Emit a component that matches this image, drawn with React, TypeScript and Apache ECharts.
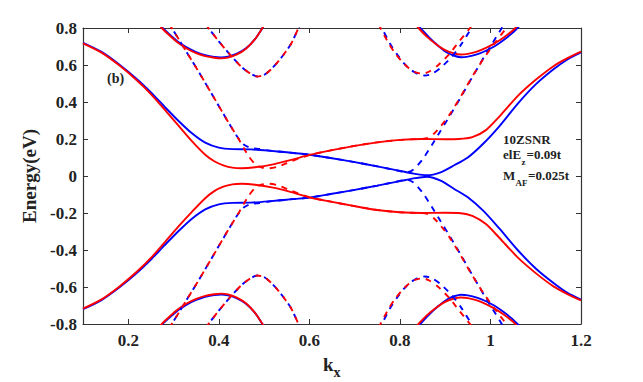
import React, { useEffect, useRef } from "react";
import * as echarts from "echarts";

// ---------- data: k_x (units of pi/a) vs Energy (eV) ----------
const xTicks = [0.2, 0.4, 0.6, 0.8, 1, 1.2];

// near-gap bands (solid)
const redBandUp = [[0.10,0.717],[0.14,0.668],[0.18,0.598],[0.22,0.515],[0.25,0.443],[0.28,0.36],[0.31,0.275],[0.34,0.19],[0.37,0.115],[0.39,0.08],[0.41,0.058],[0.43,0.045],[0.45,0.042],[0.48,0.047],[0.52,0.063],[0.56,0.087],[0.60,0.114],[0.65,0.14],[0.70,0.163],[0.75,0.182],[0.80,0.195],[0.85,0.2],[0.90,0.199],[0.93,0.2],[0.96,0.21],[0.99,0.248],[1.02,0.322],[1.06,0.432],[1.10,0.52],[1.14,0.595],[1.17,0.637],[1.20,0.672]];
const blueBandUp = [[0.10,0.72],[0.14,0.672],[0.18,0.603],[0.22,0.522],[0.25,0.452],[0.28,0.375],[0.31,0.3],[0.34,0.232],[0.37,0.18],[0.40,0.153],[0.43,0.145],[0.47,0.144],[0.51,0.137],[0.55,0.128],[0.60,0.115],[0.65,0.096],[0.70,0.075],[0.75,0.052],[0.80,0.028],[0.83,0.013],[0.86,0.004],[0.89,0.02],[0.92,0.058],[0.95,0.1],[0.985,0.177],[1.02,0.27],[1.06,0.39],[1.10,0.495],[1.14,0.578],[1.17,0.63],[1.20,0.668]];
const redBandDn = [[0.10,-0.717],[0.14,-0.668],[0.18,-0.598],[0.22,-0.515],[0.25,-0.443],[0.28,-0.36],[0.31,-0.275],[0.34,-0.195],[0.37,-0.12],[0.39,-0.082],[0.41,-0.058],[0.43,-0.045],[0.45,-0.042],[0.48,-0.047],[0.52,-0.063],[0.56,-0.087],[0.60,-0.116],[0.65,-0.14],[0.70,-0.163],[0.75,-0.184],[0.80,-0.196],[0.85,-0.2],[0.90,-0.199],[0.93,-0.2],[0.96,-0.215],[0.99,-0.26],[1.02,-0.335],[1.06,-0.44],[1.10,-0.525],[1.14,-0.598],[1.17,-0.638],[1.20,-0.672]];
const blueBandDn = [[0.10,-0.72],[0.14,-0.672],[0.18,-0.603],[0.22,-0.522],[0.25,-0.452],[0.28,-0.375],[0.31,-0.3],[0.34,-0.232],[0.37,-0.18],[0.40,-0.153],[0.43,-0.145],[0.47,-0.144],[0.51,-0.137],[0.55,-0.128],[0.60,-0.117],[0.65,-0.096],[0.70,-0.075],[0.75,-0.052],[0.80,-0.028],[0.83,-0.013],[0.86,-0.004],[0.89,-0.025],[0.92,-0.07],[0.95,-0.115],[0.985,-0.19],[1.02,-0.285],[1.06,-0.4],[1.10,-0.5],[1.14,-0.58],[1.17,-0.632],[1.20,-0.668]];

// high-energy solid arcs
const redArcTL = [[0.268,0.82],[0.274,0.80],[0.29,0.762],[0.31,0.72],[0.33,0.688],[0.35,0.664],[0.37,0.648],[0.39,0.639],[0.405,0.636],[0.42,0.64],[0.44,0.657],[0.46,0.688],[0.48,0.74],[0.495,0.795],[0.50,0.815]];
const blueArcTL = [[0.27,0.82],[0.276,0.80],[0.292,0.764],[0.31,0.726],[0.33,0.694],[0.35,0.67],[0.37,0.653],[0.39,0.643],[0.405,0.641],[0.42,0.645],[0.44,0.661],[0.46,0.69],[0.48,0.74],[0.495,0.795],[0.50,0.815]];
const redArcTR = [[0.835,0.82],[0.841,0.80],[0.86,0.752],[0.88,0.712],[0.90,0.68],[0.92,0.662],[0.935,0.657],[0.95,0.66],[0.97,0.672],[0.99,0.692],[1.01,0.718],[1.03,0.75],[1.05,0.788],[1.058,0.808]];
const blueArcTR = [[0.838,0.82],[0.845,0.80],[0.865,0.748],[0.885,0.703],[0.905,0.666],[0.92,0.65],[0.935,0.642],[0.95,0.645],[0.97,0.657],[0.99,0.677],[1.01,0.703],[1.03,0.737],[1.05,0.777],[1.063,0.808]];
const redArcBL = [[0.268,-0.82],[0.274,-0.80],[0.29,-0.762],[0.31,-0.72],[0.33,-0.688],[0.35,-0.664],[0.37,-0.648],[0.39,-0.639],[0.405,-0.636],[0.42,-0.64],[0.44,-0.657],[0.46,-0.688],[0.48,-0.74],[0.495,-0.795],[0.50,-0.815]];
const blueArcBL = [[0.27,-0.82],[0.276,-0.80],[0.292,-0.764],[0.31,-0.726],[0.33,-0.694],[0.35,-0.67],[0.37,-0.653],[0.39,-0.643],[0.405,-0.641],[0.42,-0.645],[0.44,-0.661],[0.46,-0.69],[0.48,-0.74],[0.495,-0.795],[0.50,-0.815]];
const redArcBR = [[0.835,-0.82],[0.841,-0.80],[0.86,-0.752],[0.88,-0.712],[0.90,-0.68],[0.92,-0.662],[0.935,-0.657],[0.95,-0.66],[0.97,-0.672],[0.99,-0.692],[1.01,-0.718],[1.03,-0.75],[1.05,-0.788],[1.058,-0.808]];
const blueArcBR = [[0.838,-0.82],[0.845,-0.80],[0.865,-0.748],[0.885,-0.703],[0.905,-0.666],[0.92,-0.65],[0.935,-0.642],[0.95,-0.645],[0.97,-0.657],[0.99,-0.677],[1.01,-0.703],[1.03,-0.737],[1.05,-0.777],[1.063,-0.808]];

// high-energy dashed arcs
const dashArcTL = [[0.372,0.82],[0.377,0.80],[0.40,0.728],[0.425,0.655],[0.45,0.59],[0.47,0.553],[0.485,0.538],[0.50,0.546],[0.515,0.576],[0.53,0.615],[0.545,0.662],[0.56,0.716],[0.576,0.80],[0.58,0.82]];
const dashArcBL = [[0.372,-0.82],[0.377,-0.80],[0.40,-0.728],[0.425,-0.655],[0.45,-0.59],[0.47,-0.553],[0.485,-0.538],[0.50,-0.546],[0.515,-0.576],[0.53,-0.615],[0.545,-0.662],[0.56,-0.716],[0.576,-0.80],[0.58,-0.82]];
const redDashArcTR = [[0.753,0.82],[0.757,0.80],[0.775,0.718],[0.79,0.662],[0.805,0.617],[0.82,0.582],[0.835,0.56],[0.85,0.553],[0.865,0.565],[0.885,0.6],[0.91,0.662],[0.93,0.725],[0.955,0.80],[0.96,0.82]];
const blueDashArcTR = [[0.756,0.82],[0.76,0.80],[0.778,0.716],[0.793,0.66],[0.808,0.612],[0.823,0.576],[0.84,0.551],[0.855,0.543],[0.87,0.551],[0.89,0.585],[0.915,0.645],[0.935,0.71],[0.958,0.80],[0.962,0.82]];
const redDashArcBR = [[0.753,-0.82],[0.757,-0.80],[0.775,-0.718],[0.79,-0.662],[0.805,-0.617],[0.82,-0.582],[0.835,-0.56],[0.85,-0.553],[0.865,-0.565],[0.885,-0.6],[0.91,-0.662],[0.93,-0.725],[0.955,-0.80],[0.96,-0.82]];
const blueDashArcBR = [[0.756,-0.82],[0.76,-0.80],[0.778,-0.716],[0.793,-0.66],[0.808,-0.612],[0.823,-0.576],[0.84,-0.551],[0.855,-0.543],[0.87,-0.551],[0.89,-0.585],[0.915,-0.645],[0.935,-0.71],[0.958,-0.80],[0.962,-0.82]];

// dashed bands crossing the gap region
const redDashUp = [[0.29,0.82],[0.296,0.80],[0.33,0.665],[0.36,0.545],[0.39,0.42],[0.42,0.295],[0.445,0.195],[0.465,0.11],[0.48,0.065],[0.495,0.046],[0.51,0.042],[0.53,0.05],[0.56,0.08],[0.60,0.113],[0.65,0.14],[0.70,0.163],[0.75,0.182],[0.80,0.195],[0.84,0.2],[0.86,0.204],[0.875,0.228],[0.89,0.268],[0.91,0.333],[0.935,0.432],[0.96,0.538],[0.985,0.635],[1.01,0.72],[1.035,0.80],[1.04,0.82]];
const blueDashUp = [[0.29,0.82],[0.296,0.80],[0.33,0.665],[0.36,0.545],[0.39,0.42],[0.42,0.295],[0.44,0.215],[0.455,0.17],[0.47,0.152],[0.49,0.146],[0.51,0.138],[0.55,0.128],[0.60,0.115],[0.65,0.096],[0.70,0.075],[0.75,0.052],[0.79,0.032],[0.815,0.02],[0.83,0.035],[0.85,0.09],[0.87,0.165],[0.89,0.245],[0.91,0.325],[0.935,0.428],[0.96,0.535],[0.985,0.64],[1.005,0.72],[1.025,0.80],[1.03,0.82]];
const redDashDn = [[0.29,-0.82],[0.296,-0.80],[0.33,-0.665],[0.36,-0.545],[0.39,-0.42],[0.42,-0.295],[0.445,-0.195],[0.465,-0.11],[0.48,-0.065],[0.495,-0.046],[0.51,-0.042],[0.53,-0.05],[0.56,-0.08],[0.60,-0.115],[0.65,-0.14],[0.70,-0.163],[0.75,-0.184],[0.80,-0.196],[0.84,-0.2],[0.86,-0.204],[0.875,-0.228],[0.89,-0.268],[0.91,-0.333],[0.935,-0.432],[0.96,-0.538],[0.985,-0.635],[1.01,-0.72],[1.035,-0.80],[1.04,-0.82]];
const blueDashDn = [[0.29,-0.82],[0.296,-0.80],[0.33,-0.665],[0.36,-0.545],[0.39,-0.42],[0.42,-0.295],[0.44,-0.215],[0.455,-0.17],[0.47,-0.152],[0.49,-0.146],[0.51,-0.138],[0.55,-0.128],[0.60,-0.117],[0.65,-0.096],[0.70,-0.075],[0.75,-0.052],[0.79,-0.032],[0.815,-0.02],[0.83,-0.035],[0.85,-0.09],[0.87,-0.165],[0.89,-0.245],[0.91,-0.325],[0.935,-0.428],[0.96,-0.535],[0.985,-0.64],[1.005,-0.72],[1.025,-0.80],[1.03,-0.82]];

const RED = "#ff0000";
const BLUE = "#0000ff";
const FONT = "Liberation Serif, Times New Roman, serif";
const TXT = "#222222";

function mk(data: number[][], color: string, dashed: boolean, offset = 0) {
  return {
    type: "line",
    data,
    showSymbol: false,
    symbol: "none",
    smooth: 0.25,
    silent: true,
    clip: true,
    lineStyle: {
      color,
      width: 1.9,
      type: dashed ? [6, 6] : "solid",
      dashOffset: offset,
    },
  };
}

function label(text: string, x: number, y: number, size: number) {
  return {
    type: "text",
    x,
    y,
    silent: true,
    style: {
      text,
      font: `bold ${size}px ${FONT}`,
      fill: TXT,
      textAlign: "left",
      textVerticalAlign: "middle",
      align: "left",
      verticalAlign: "middle",
    },
  };
}

export default function App() {
  const ref = useRef<HTMLDivElement>(null);
  useEffect(() => {
    if (!ref.current) return;
    const chart = echarts.init(ref.current, undefined, { renderer: "svg" });
    const axisLine = { show: true, onZero: false, lineStyle: { color: "#333333", width: 1.2 } };
    const series = [
      mk(blueBandUp, BLUE, false), mk(redBandUp, RED, false),
      mk(blueBandDn, BLUE, false), mk(redBandDn, RED, false),
      mk(blueArcTL, BLUE, false), mk(redArcTL, RED, false),
      mk(blueArcTR, BLUE, false), mk(redArcTR, RED, false),
      mk(blueArcBL, BLUE, false), mk(redArcBL, RED, false),
      mk(blueArcBR, BLUE, false), mk(redArcBR, RED, false),
      mk(dashArcTL, BLUE, true, 3), mk(dashArcTL, RED, true),
      mk(dashArcBL, BLUE, true, 3), mk(dashArcBL, RED, true),
      mk(blueDashArcTR, BLUE, true, 3), mk(redDashArcTR, RED, true),
      mk(blueDashArcBR, BLUE, true, 3), mk(redDashArcBR, RED, true),
      mk(blueDashUp, BLUE, true, 3), mk(redDashUp, RED, true),
      mk(blueDashDn, BLUE, true, 3), mk(redDashDn, RED, true),
    ];
    chart.setOption({
      animation: false,
      backgroundColor: "#ffffff",
      grid: { left: 83, right: 62, top: 28, bottom: 58, outerBoundsMode: "none" },
      xAxis: [
        {
          type: "value", min: 0.1, max: 1.2, position: "bottom",
          axisLine,
          axisTick: { show: true, inside: true, length: 5, customValues: xTicks, lineStyle: { color: "#333333" } },
          axisLabel: { show: true, customValues: xTicks, margin: 8, fontFamily: FONT, fontWeight: "bold", fontSize: 17, color: TXT },
          splitLine: { show: false },
        },
        {
          type: "value", min: 0.1, max: 1.2, position: "top",
          axisLine,
          axisTick: { show: true, inside: true, length: 5, customValues: xTicks, lineStyle: { color: "#333333" } },
          axisLabel: { show: false },
          splitLine: { show: false },
        },
      ],
      yAxis: [
        {
          type: "value", min: -0.8, max: 0.8, interval: 0.2, position: "left",
          name: "Energy(eV)", nameLocation: "middle", nameGap: 33,
          nameTextStyle: { fontFamily: FONT, fontWeight: "bold", fontSize: 19, color: TXT },
          axisLine,
          axisTick: { show: true, inside: true, length: 5, lineStyle: { color: "#333333" } },
          axisLabel: { margin: 6, fontFamily: FONT, fontWeight: "bold", fontSize: 17, color: TXT },
          splitLine: { show: false },
        },
        {
          type: "value", min: -0.8, max: 0.8, interval: 0.2, position: "right",
          axisLine,
          axisTick: { show: true, inside: true, length: 5, lineStyle: { color: "#333333" } },
          axisLabel: { show: false },
          splitLine: { show: false },
        },
      ],
      series,
      graphic: [
        label("(b)", 107, 78, 14),
        label("10ZSNR", 503, 139.5, 13),
        label("elE", 503, 154, 13),
        label("z", 521.5, 161.5, 9),
        label("=0.09t", 526.5, 154, 13),
        label("M", 503, 175.5, 13),
        label("AF", 515.5, 182.5, 9),
        label("=0.025t", 528, 175.5, 13),
        label("k", 323, 364, 19),
        label("x", 333.5, 372, 14),
      ],
    });
    return () => chart.dispose();
  }, []);
  return (
    <div
      ref={ref}
      style={{ position: "fixed", left: 0, top: 0, width: 643, height: 382, background: "#fff" }}
    />
  );
}
